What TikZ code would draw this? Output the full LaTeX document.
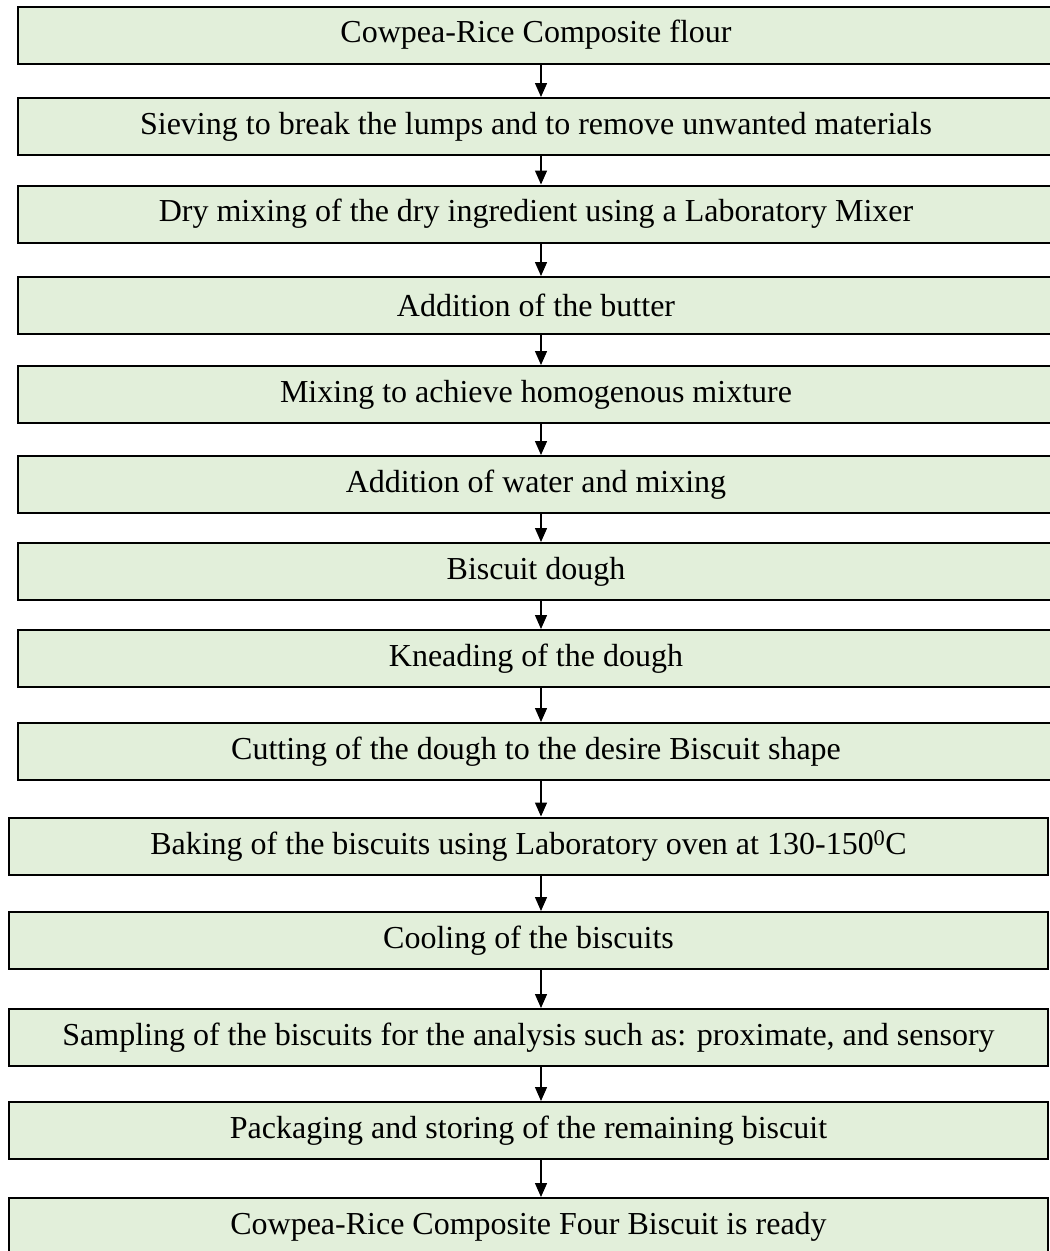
\documentclass[tikz,border=0pt]{standalone}
\usepackage{fontspec}
\setmainfont{Liberation Serif}
\usetikzlibrary{arrows.meta}
\definecolor{boxgreen}{HTML}{E2EFDA}
\tikzset{
	stepbox/.style={draw, line width=2pt, fill=boxgreen, minimum height=57pt, inner sep=0pt, font=\fontsize{32}{38}\selectfont},
	widebox/.style={stepbox, minimum width=1036pt},
	lowbox/.style={stepbox, minimum width=1039pt},
	flow/.style={draw, line width=1.4pt, -{Triangle[width=12pt,length=14pt]}}
}

\begin{document}
\begin{tikzpicture} [x=1pt,y=1pt]

		\useasboundingbox (0,0) rectangle (1050,-1251);
		\clip (0,0) rectangle (1050,-1251);

		% steps
		\node [widebox] (s1) at (536,-35) {Cowpea-Rice Composite flour};
		\node [widebox] (s2) at (536,-126.5) {Sieving to break the lumps and to remove unwanted materials};
		\node [widebox] (s3) at (536,-214) {Dry mixing of the dry ingredient using a Laboratory Mixer};
		\node [widebox] (s4) at (536,-305.5) {Addition of the butter};
		\node [widebox] (s5) at (536,-394.5) {Mixing to achieve homogenous mixture};
		\node [widebox] (s6) at (536,-484.5) {Addition of water and mixing};
		\node [widebox] (s7) at (536,-571.5) {Biscuit dough};
		\node [widebox] (s8) at (536,-658.5) {Kneading of the dough};
		\node [widebox] (s9) at (536,-751.5) {Cutting of the dough to the desire Biscuit shape};
		\node [lowbox] (s10) at (528.5,-846) {Baking of the biscuits using Laboratory oven at 130-150\textsuperscript{0}C};
		\node [lowbox] (s11) at (528.5,-940.5) {Cooling of the biscuits};
		\node [lowbox] (s12) at (528.5,-1037.5) {Sampling of the biscuits for the analysis such as: proximate, and sensory};
		\node [lowbox] (s13) at (528.5,-1130.5) {Packaging and storing of the remaining biscuit};
		\node [lowbox] (s14) at (528.5,-1226.5) {Cowpea-Rice Composite Four Biscuit is ready};

		% arrows
		\coordinate (ax) at (541,0);
		\foreach \a/\b in {s1/s2,s2/s3,s3/s4,s4/s5,s5/s6,s6/s7,s7/s8,s8/s9,s9/s10,s10/s11,s11/s12,s12/s13,s13/s14}
			\draw [flow] (\a.south -| ax) -- (\b.north -| ax);

\end{tikzpicture}
\end{document}
